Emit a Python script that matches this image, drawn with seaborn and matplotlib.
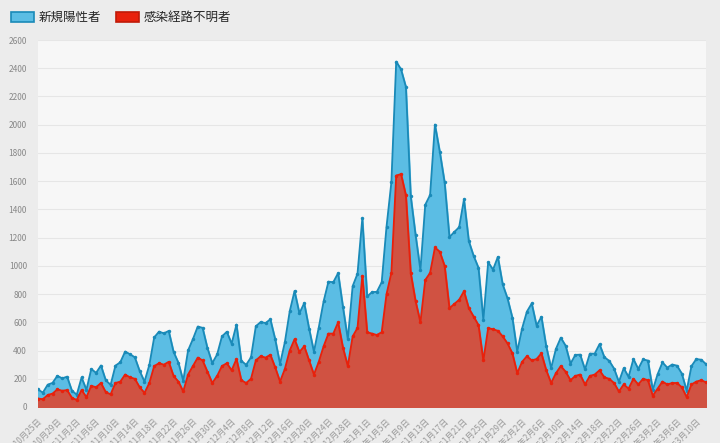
import pandas as pd
import matplotlib.pyplot as plt
import seaborn as sns

positive = [124, 102, 158, 171, 221, 203, 215,
            116, 87, 209, 122, 269, 242, 294, 189, 157, 293, 317, 393, 374, 352, 255, 180, 298, 493, 534, 522, 539, 391, 314, 186, 401, 481, 570, 561, 418, 311,
            372, 500, 533, 449, 584, 327, 299, 352, 572, 602, 595, 621, 480, 305, 460, 678, 822, 664, 736, 556, 392, 563, 748, 888, 884, 949, 708, 481, 856, 944, 1337,
            783, 814, 816, 884, 1278, 1591, 2447, 2392, 2268, 1494, 1219, 970, 1433, 1502, 2001, 1809, 1592, 1204, 1240, 1274, 1471, 1175, 1070, 986, 618, 1026, 973, 1064, 868, 769, 633,
            393, 556, 676, 734, 577, 639, 429, 276, 412, 491, 434, 307, 369, 371, 266, 378, 378, 445, 353, 327, 272, 178, 275, 213, 340, 270, 337, 329,
            121, 232, 316, 279, 301, 293, 237, 116, 290, 340, 335, 304]
unknown = [60, 55, 85, 95, 125, 115, 120,
           65, 50, 120, 70, 150, 140, 170, 105, 90, 170, 180, 230, 210, 200, 140, 100, 170, 290, 310, 300, 320, 220, 180, 110, 230, 290, 350, 330, 250, 170,
           220, 290, 310, 260, 340, 190, 170, 200, 330, 360, 350, 370, 280, 180, 270, 400, 480, 390, 430, 330, 230, 320, 430, 520, 520, 600, 420, 290, 500, 560, 930,
           530, 520, 510, 530, 800, 950, 1640, 1650, 1500, 950, 750, 600, 900, 950, 1130, 1100, 1000, 700, 730, 760, 820, 700, 640, 580, 330, 560, 550, 540, 500, 450, 380,
           240, 320, 360, 330, 340, 380, 260, 170, 240, 290, 250, 190, 220, 230, 160, 220, 230, 260, 210, 200, 170, 110, 160, 130, 200, 160, 200, 190,
           80, 130, 180, 160, 170, 170, 140, 70, 160, 180, 190, 175]
dates = pd.date_range("2020-10-25", periods=len(positive), freq="D")
df = pd.DataFrame({"day": range(len(dates)), "positive": positive, "unknown": unknown})

sns.set_theme(style="whitegrid")
plt.rcParams["font.family"] = ["Noto Sans CJK JP", "DejaVu Sans"]

fig = plt.figure(figsize=(7.2, 4.43), dpi=100, facecolor="#ececec")
ax = fig.add_axes([38 / 720, 1 - 407 / 443, 668 / 720, 367 / 443])
ax.set_facecolor("#f7f7f7")

ax.fill_between(df["day"], df["positive"], color="#5bbde4", zorder=2)
sns.lineplot(data=df, x="day", y="positive", ax=ax, color="#1a8ab8", lw=1.3,
             marker="o", markersize=2.5, markeredgewidth=0, zorder=3)
ax.fill_between(df["day"], df["unknown"], color="#d05242", zorder=4)
sns.lineplot(data=df, x="day", y="unknown", ax=ax, color="#e8210c", lw=1.3,
             marker="o", markersize=2.5, markeredgewidth=0, zorder=5)

ax.set_xlim(0, len(dates) - 1)
ax.set_ylim(0, 2600)
ax.set_yticks(range(0, 2601, 200))
ax.set_xticks(df["day"][::4])
ax.set_xticklabels([f"{d.year}年{d.month}月{d.day}日" for d in dates[::4]],
                   rotation=45, ha="right", rotation_mode="anchor", fontsize=6, color="#999999")
ax.tick_params(axis="y", labelsize=6, colors="#888888", pad=2)
ax.tick_params(axis="x", pad=1)
ax.grid(axis="x", visible=False)
ax.grid(axis="y", color="#e6e6e6", lw=0.8)
ax.set_xlabel("")
ax.set_ylabel("")
for s in ax.spines.values():
    s.set_visible(False)

handles = [plt.Rectangle((0, 0), 1, 1, fc="#5bbde4", ec="#1a8ab8", lw=1.2),
           plt.Rectangle((0, 0), 1, 1, fc="#e8210c", ec="#c01a08", lw=1.2)]
fig.legend(handles, ["新規陽性者", "感染経路不明者"], loc="upper left", bbox_to_anchor=(0.0, 1.0),
           ncol=2, frameon=False, fontsize=9, handlelength=1.8, handleheight=0.9,
           columnspacing=1.2, handletextpad=0.4)

fig.savefig("out.png", dpi=100, facecolor=fig.get_facecolor())
